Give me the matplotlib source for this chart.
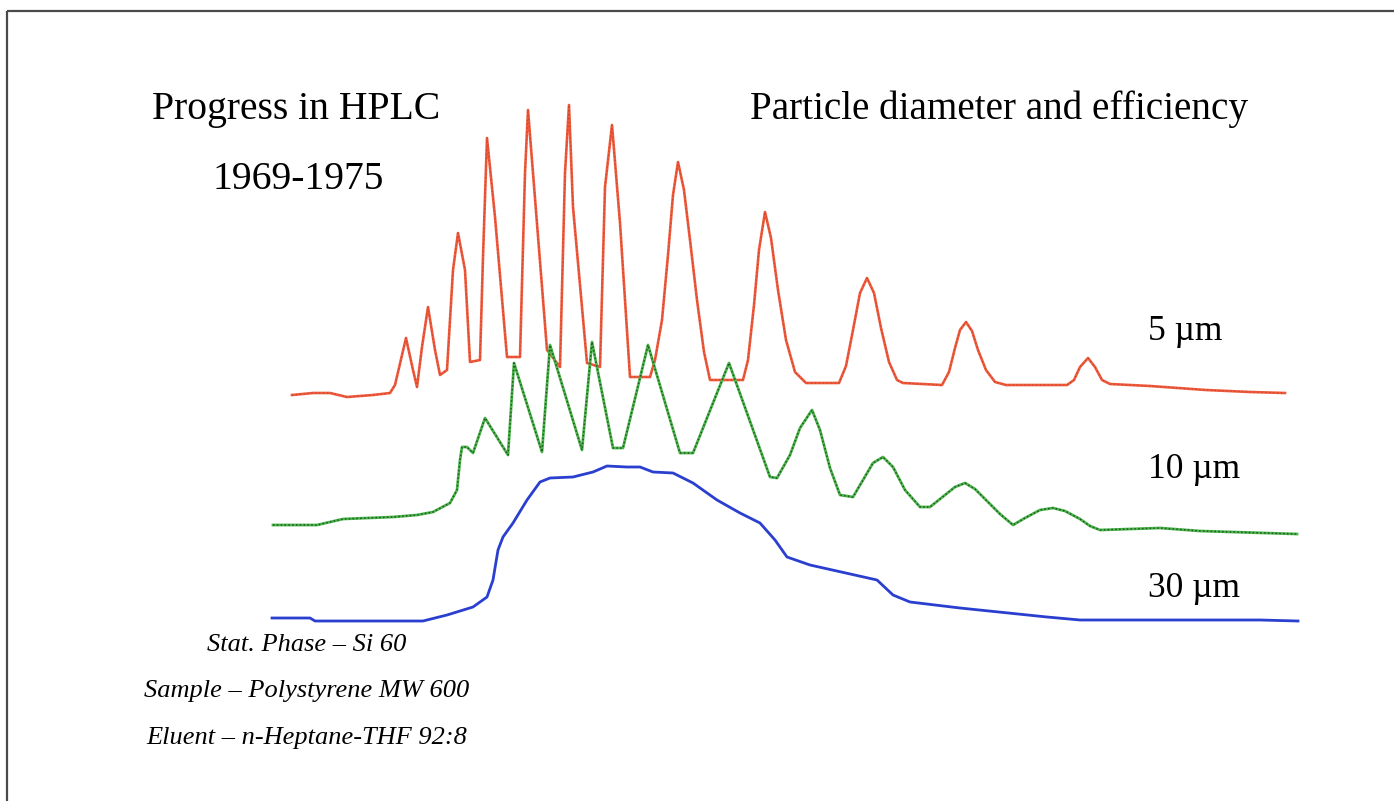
import matplotlib.pyplot as plt

# traces (pixel units, y grows downward)
red_x = [292, 313, 330, 347, 373, 390, 395, 406, 413, 417,
         422, 428, 435, 440, 447, 453, 458, 465, 470, 480,
         483, 487, 495, 507, 520, 525, 528, 533, 547, 560,
         565, 569, 573, 587, 600, 605, 612, 620, 630, 650,
         655, 662, 668, 673, 678, 684, 690, 697, 704, 710,
         743, 748, 754, 759, 765, 771, 778, 786, 795, 806,
         839, 846, 853, 860, 867, 874, 881, 889, 897, 903,
         942, 949, 955, 960, 966, 972, 978, 986, 995, 1006,
         1067, 1074, 1080, 1088, 1095, 1102, 1110, 1150, 1206, 1250,
         1285]
red_y = [395, 393, 393, 397, 395, 393, 385, 338, 370, 387,
         347, 307, 350, 375, 370, 270, 233, 270, 362, 360,
         257, 138, 217, 357, 357, 173, 110, 173, 350, 367,
         173, 105, 207, 363, 367, 187, 125, 223, 377, 377,
         360, 320, 255, 195, 162, 190, 240, 300, 352, 380,
         380, 360, 305, 250, 212, 238, 290, 340, 372, 383,
         383, 366, 330, 293, 278, 293, 328, 362, 380, 383,
         385, 372, 348, 330, 322, 331, 350, 370, 382, 385,
         385, 380, 367, 358, 367, 380, 384, 386, 390, 392,
         393]

green_x = [273, 317, 343, 393, 417, 433, 450, 457, 460, 462,
           467, 473, 485, 508, 514, 542, 550, 582, 592, 613,
           623, 648, 680, 693, 729, 770, 777, 790, 800, 812,
           820, 830, 840, 853, 863, 873, 883, 893, 905, 920,
           930, 945, 955, 965, 975, 990, 1000, 1013, 1025, 1040,
           1053, 1065, 1080, 1090, 1100, 1160, 1200, 1297]
green_y = [525, 525, 519, 517, 515, 512, 503, 490, 460, 447,
           447, 453, 418, 455, 363, 452, 345, 450, 342, 448,
           448, 345, 453, 453, 363, 477, 478, 455, 428, 410,
           430, 468, 495, 497, 480, 463, 457, 467, 490, 507,
           507, 495, 487, 483, 489, 504, 514, 525, 518, 510,
           508, 511, 519, 526, 530, 528, 531, 534]

blue_x = [272, 310, 315, 423, 447, 473, 487, 493, 498, 503,
          513, 527, 540, 550, 573, 593, 607, 627, 640, 653,
          673, 693, 717, 740, 760, 775, 787, 810, 877, 893,
          910, 960, 1047, 1080, 1260, 1298]
blue_y = [618, 618, 621, 621, 615, 607, 597, 580, 550, 537,
          523, 500, 482, 478, 477, 472, 466, 467, 467, 472,
          473, 483, 500, 513, 523, 540, 557, 565, 580, 595,
          602, 608, 617, 620, 620, 621]

labels = ["5 \u00b5m", "10 \u00b5m", "30 \u00b5m"]
notes = ["Stat. Phase \u2013 Si 60",
         "Sample \u2013 Polystyrene MW 600",
         "Eluent \u2013 n-Heptane-THF 92:8"]

fig = plt.figure(figsize=(13.94, 8.01), dpi=100)
ax = fig.add_axes([0, 0, 1, 1])
ax.set_xlim(0, 1394)
ax.set_ylim(801, 0)
ax.axis('off')

# frame lines
ax.plot([7, 1394], [11, 11], color='#4a4a4a', lw=1.6, solid_capstyle='butt')
ax.plot([7, 7], [11, 801], color='#4a4a4a', lw=1.6, solid_capstyle='butt')

# chromatograms
ax.plot(red_x, red_y, color='#ee5a3c', lw=1.9)
ax.plot(red_x, red_y, color='#b8321f', lw=0.8, dashes=(1, 2.5), alpha=0.7)
ax.plot(green_x, green_y, color='#4cb44c', lw=2.0)
ax.plot(green_x, green_y, color='#1e5a1e', lw=1.1, dashes=(1, 1.5))
ax.plot(blue_x, blue_y, color='#2a3fd0', lw=2.0)

serif = 'Liberation Serif'
ax.text(152, 119, "Progress in HPLC", fontsize=28.5, family=serif, va='baseline')
ax.text(212, 189, "1969-1975", fontsize=28.5, family=serif, va='baseline')
ax.text(750, 119, "Particle diameter and efficiency", fontsize=28.2, family=serif,
        va='baseline')

for lab, yb in zip(labels, [340, 478, 597]):
    ax.text(1148, yb, lab, fontsize=25.5, family=serif, va='baseline')

for note, yc in zip(notes, [645, 691, 738]):
    ax.text(307, yc, note, fontsize=19, family=serif, style='italic',
            ha='center', va='center')

fig.savefig('out.png', dpi=100)
